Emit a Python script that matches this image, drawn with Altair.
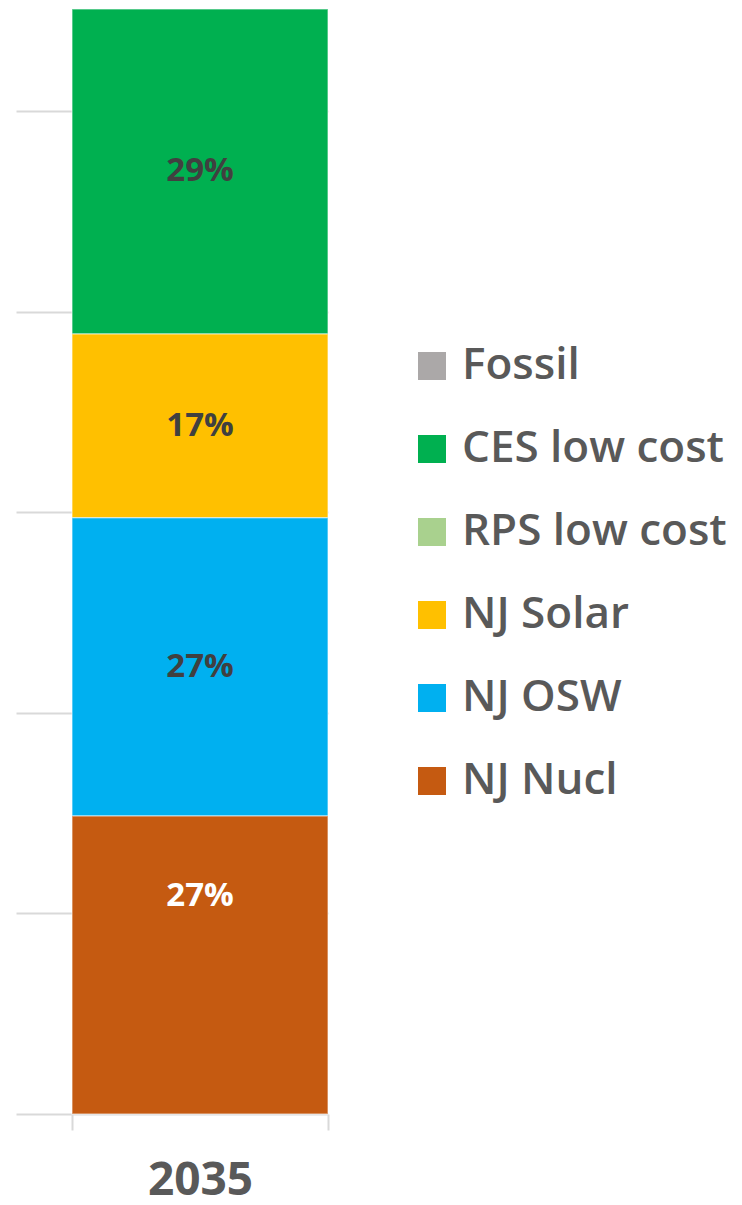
import altair as alt
import pandas as pd

# Data (values in generation units; labels are share of total)
year = "2035"
sources = ["Fossil", "CES low cost", "RPS low cost", "NJ Solar", "NJ OSW", "NJ Nucl"]
values = [0.0, 16.2, 0.0, 9.17, 14.86, 14.86]
labels = ["", "29%", "", "17%", "27%", "27%"]
stack_rank = [6, 5, 4, 3, 2, 1]  # 1 = bottom of the stack
colors = ["#ABA8A8", "#00B050", "#A9D18E", "#FFC000", "#00B0F0", "#C55A11"]

df = pd.DataFrame({
    "year": [year] * len(sources),
    "source": sources,
    "value": values,
    "label": labels,
    "rank": stack_rank,
})

FONT = "Open Sans"
GRID = "#D9D9D9"

color_scale = alt.Scale(domain=sources, range=colors)
x_scale = alt.Scale(paddingInner=0, paddingOuter=0.1094, align=1)
x_enc = alt.X(
    "year:N",
    title=None,
    scale=x_scale,
    axis=alt.Axis(
        labelAngle=0, labelFont=FONT, labelFontSize=46, labelFontWeight="bold",
        labelColor="#595959", labelPadding=28, tickBand="extent", tickSize=16,
        tickColor=GRID, tickWidth=2, domainColor=GRID, domainWidth=2, grid=False,
    ),
)
y_scale = alt.Scale(domain=[0, 55.09], nice=False)

base = alt.Chart(df)

bars = base.transform_filter("datum.value > 0").mark_bar(
    stroke="#FFFFFF", strokeWidth=1.5, strokeOpacity=0.45,
).encode(
    x=x_enc,
    y=alt.Y(
        "value:Q", stack="zero", scale=y_scale, title=None,
        axis=alt.Axis(labels=False, ticks=False, domain=False, grid=True,
                      gridColor=GRID, gridWidth=2, values=[10, 20, 30, 40, 50]),
    ),
    color=alt.Color(
        "source:N", scale=color_scale, sort=sources, title=None,
        legend=alt.Legend(
            orient="none", legendX=394, legendY=335, labelFont=FONT,
            labelFontSize=44, labelFontWeight=600, labelColor="#595959",
            symbolType="square", symbolSize=784, symbolStrokeWidth=0,
            rowPadding=39, labelOffset=8, labelLimit=400,
        ),
    ),
    order=alt.Order("rank:Q", sort="ascending"),
)

stacked = base.transform_filter("datum.value > 0").transform_stack(
    stack="value", groupby=["year"], sort=[alt.SortField("rank", "ascending")],
    as_=["y0", "y1"],
).transform_calculate(mid="(datum.y0 + datum.y1) / 2")

text_upper = stacked.transform_filter("datum.source != 'NJ Nucl'").mark_text(
    font=FONT, fontSize=33, fontWeight="bold", baseline="middle", color="#404040",
).encode(
    x=alt.X("year:N", scale=x_scale),
    y=alt.Y("mid:Q", scale=y_scale),
    text="label:N",
)

text_nucl = stacked.transform_filter("datum.source == 'NJ Nucl'").mark_text(
    font=FONT, fontSize=33, fontWeight="bold", baseline="middle", color="#FFFFFF",
    dy=-69,
).encode(
    x=alt.X("year:N", scale=x_scale),
    y=alt.Y("mid:Q", scale=y_scale),
    text="label:N",
)

chart = alt.layer(bars, text_upper, text_nucl).properties(
    width=312, height=1105,
    padding={"left": 8, "top": 0, "right": 0, "bottom": 0},
).configure_view(stroke=None)

chart.save("out.html", embed_options={"renderer": "svg", "actions": False})
